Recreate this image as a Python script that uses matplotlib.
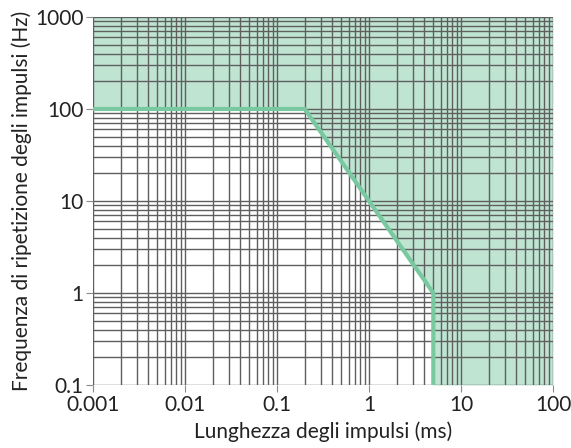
import numpy as np
import matplotlib.pyplot as plt

plt.rcParams['font.family'] = ['Lato', 'DejaVu Sans']

# boundary of the allowed region (pulse length ms, repetition frequency Hz)
x_line = [0.001, 0.2, 5, 5]
y_line = [100, 100, 1, 0.1]

xmin, xmax = 0.001, 100
ymin, ymax = 0.1, 1000
x_ticks = [0.001, 0.01, 0.1, 1, 10, 100]
x_labels = ['0.001', '0.01', '0.1', '1', '10', '100']
y_ticks = [0.1, 1, 10, 100, 1000]
y_labels = ['0.1', '1', '10', '100', '1000']

fill_col = '#bfe5d2'
line_col = '#78c9a0'
grid_col = '#5f5f5f'

fig = plt.figure(figsize=(5.71, 4.48), dpi=100)
ax = fig.add_axes([93/571, 1 - 385/448, 460/571, 368/448])

# shaded region above / right of the curve
ax.fill_between(x_line + [xmax], y_line + [ymin], ymax, color=fill_col, lw=0, zorder=0)

ax.set_xscale('log')
ax.set_yscale('log')
ax.set_xlim(xmin, xmax)
ax.set_ylim(ymin, ymax)

ax.grid(True, which='both', color=grid_col, lw=1.0, zorder=1)
ax.set_axisbelow(False)
ax.plot(x_line, y_line, color=line_col, lw=3, solid_capstyle='butt', zorder=3)

ax.set_xticks(x_ticks)
ax.set_xticklabels(x_labels)
ax.set_yticks(y_ticks)
ax.set_yticklabels(y_labels)
ax.tick_params(which='minor', length=0)
ax.tick_params(which='major', length=5, color='#8a8a8a', labelsize=15, pad=2,
               labelcolor='#222222')
for s in ax.spines.values():
    s.set_visible(False)

ax.set_xlabel('Lunghezza degli impulsi (ms)', fontsize=15, labelpad=5, color='#222222')
ax.set_ylabel('Frequenza di ripetizione degli impulsi (Hz)', fontsize=15, labelpad=2,
              color='#222222')

fig.savefig('out.png', dpi=100)
